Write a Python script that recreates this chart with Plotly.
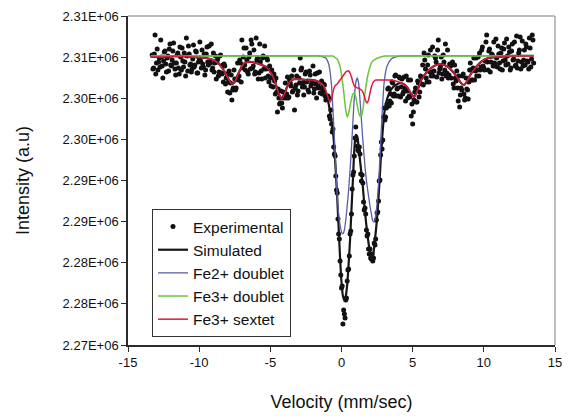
import numpy as np
import plotly.graph_objects as go

# ---------------- data ----------------
# Experimental Moessbauer spectrum, two interleaved channel sets (velocity in mm/s)
V_START_A = -13.3
V_START_B = -13.25
V_STEP = 0.1
INT_EXP_A = [
    2305260, 2303680, 2307690, 2304290, 2303430, 2304890, 2307080, 2303920, 2304530, 2305740,
    2303190, 2305140, 2305990, 2304040, 2304650, 2306720, 2303560, 2304290, 2305500, 2302950,
    2305020, 2306110, 2303800, 2304410, 2307330, 2303310, 2305380, 2304160, 2303560, 2306470,
    2304040, 2305620, 2303070, 2304890, 2304530, 2305870, 2303800, 2302830, 2305380, 2304410,
    2306350, 2304290, 2303430, 2305500, 2304290, 2302340, 2304770, 2303190, 2305260, 2302950,
    2301980, 2303920, 2302460, 2300760, 2303310, 2301850, 2299790, 2301250, 2302340, 2301250,
    2304290, 2302700, 2304290, 2307080, 2305020, 2304040, 2306110, 2303190, 2305020, 2303560,
    2306600, 2303920, 2302950, 2307330, 2304890, 2303070, 2304410, 2302340, 2305140, 2306350,
    2303560, 2304650, 2301980, 2302460, 2303430, 2301370, 2302100, 2302460, 2298330, 2300030,
    2299420, 2299420, 2300760, 2300150, 2300030, 2302580, 2300150, 2301850, 2302700, 2300880,
    2298570, 2301610, 2300400, 2302460, 2304890, 2303680, 2301850, 2301370, 2303190, 2302100,
    2300760, 2302830, 2301730, 2303920, 2301120, 2301730, 2303070, 2301250, 2300640, 2302100,
    2300880, 2301610, 2299790, 2299910, 2300030, 2297480, 2296870, 2296260, 2293220, 2290550,
    2288480, 2283500, 2280210, 2276930, 2272550, 2273770, 2275470, 2277780, 2279240, 2283500,
    2285930, 2290670, 2292980, 2296500, 2294190, 2293590, 2293220, 2289940, 2289700, 2286410,
    2285930, 2283250, 2281670, 2281670, 2280460, 2280210, 2282400, 2282890, 2286050, 2287510,
    2290060, 2294680, 2294920, 2298810, 2297720, 2299300, 2301250, 2299670, 2299420, 2301850,
    2300520, 2302830, 2301120, 2300270, 2302460, 2301370, 2300520, 2302580, 2299670, 2300880,
    2302220, 2300150, 2297840, 2296870, 2299790, 2301250, 2299540, 2301850, 2300760, 2302580,
    2304040, 2305500, 2303560, 2301980, 2305260, 2303190, 2302700, 2306230, 2303310, 2304890,
    2302580, 2307080, 2303560, 2305020, 2302950, 2304410, 2306600, 2303070, 2302460, 2304160,
    2302460, 2304410, 2301250, 2302460, 2303310, 2299670, 2298940, 2301250, 2302700, 2300520,
    2300030, 2301120, 2299910, 2303430, 2303430, 2302220, 2304890, 2303310, 2302700, 2305020,
    2305500, 2303800, 2306230, 2303680, 2304530, 2307690, 2303430, 2305990, 2304410, 2305260,
    2306840, 2303920, 2304890, 2306350, 2304290, 2305500, 2303430, 2305990, 2304650, 2307200,
    2304160, 2305620, 2303680, 2306600, 2304770, 2303920, 2307570, 2304530, 2305870, 2303560,
    2306960, 2304650, 2304040, 2306230, 2304410, 2307330, 2303800, 2307690, 2304290,
]
INT_EXP_B = [
    2303560, 2305380, 2302950, 2305990, 2304410, 2303800, 2305020, 2302460, 2305620, 2304160,
    2304890, 2303310, 2306600, 2303920, 2305740, 2304290, 2302830, 2305260, 2303680, 2306230,
    2303430, 2304530, 2305500, 2302700, 2305140, 2306350, 2304040, 2303190, 2304770, 2303800,
    2305740, 2303070, 2304410, 2306840, 2303680, 2304160, 2305380, 2303430, 2306230, 2304040,
    2304410, 2306600, 2303680, 2303190, 2305140, 2304410, 2302700, 2305140, 2303070, 2304040,
    2304160, 2301730, 2302950, 2301980, 2300640, 2302830, 2301000, 2303430, 2301000, 2302340,
    2302220, 2304650, 2301980, 2303680, 2306110, 2303430, 2304650, 2302950, 2305500, 2307080,
    2303680, 2305870, 2303190, 2304650, 2302340, 2306600, 2303310, 2304890, 2303560, 2302460,
    2304890, 2302700, 2303920, 2301490, 2302460, 2302950, 2300520, 2300760, 2301120, 2299300,
    2300880, 2298810, 2300030, 2301850, 2300520, 2300030, 2302220, 2301490, 2300760, 2303430,
    2301250, 2302700, 2300880, 2301850, 2303430, 2301370, 2300400, 2302950, 2301980, 2301000,
    2303310, 2301490, 2301980, 2300640, 2302950, 2300030, 2301490, 2303190, 2301250, 2300520,
    2301730, 2300270, 2300030, 2300270, 2297840, 2298570, 2295900, 2294070, 2292980, 2288850,
    2285320, 2282890, 2278510, 2277170, 2274260, 2273280, 2275710, 2279120, 2280820, 2283860,
    2288970, 2291030, 2295170, 2294920, 2293710, 2294070, 2290790, 2290670, 2287390, 2286660,
    2283980, 2283500, 2281060, 2280580, 2281060, 2280580, 2282160, 2285200, 2286170, 2289940,
    2293100, 2293830, 2297720, 2297360, 2298810, 2301120, 2299060, 2300520, 2301980, 2300270,
    2302700, 2300270, 2301250, 2302580, 2300150, 2302340, 2300760, 2301250, 2302700, 2300030,
    2300270, 2302220, 2299300, 2298330, 2300760, 2299540, 2302100, 2300150, 2302700, 2301730,
    2301610, 2304650, 2302460, 2304040, 2301980, 2305870, 2303190, 2302700, 2305140, 2304410,
    2305870, 2303070, 2303800, 2302340, 2305260, 2303430, 2302700, 2305870, 2302830, 2303920,
    2304040, 2301730, 2304040, 2302100, 2301250, 2302700, 2300400, 2301000, 2302950, 2299790,
    2302460, 2301000, 2301980, 2304290, 2302220, 2303680, 2302220, 2304890, 2303430, 2302700,
    2303430, 2305870, 2303920, 2303430, 2306840, 2304410, 2305740, 2303190, 2305380, 2303920,
    2304290, 2307200, 2303800, 2305380, 2303560, 2306110, 2304530, 2306720, 2304040, 2305140,
    2306230, 2303430, 2305740, 2304650, 2306840, 2304040, 2303680, 2305500, 2307450, 2304410,
    2303920, 2305870, 2306600, 2304530, 2303560, 2306110, 2304770, 2307080,
]

# Fitted components (velocity in mm/s)
V_FIT = [-13.4, -12.5, -11.5, -10.5, -9.5, -9.0, -8.6, -8.2, -7.9, -7.7,
         -7.5, -7.2, -6.8, -6.3, -5.8, -5.3, -4.9, -4.6, -4.4, -4.2,
         -4.0, -3.8, -3.5, -3.0, -2.5, -2.0, -1.6, -1.3, -1.1, -0.9,
         -0.8, -0.7, -0.6, -0.5, -0.4, -0.3, -0.2, -0.1, 0.0, 0.1,
         0.2, 0.3, 0.4, 0.5, 0.6, 0.7, 0.8, 0.9, 1.0, 1.1,
         1.2, 1.3, 1.4, 1.5, 1.6, 1.7, 1.8, 1.9, 2.0, 2.1,
         2.2, 2.3, 2.4, 2.5, 2.6, 2.7, 2.8,
         3.0, 3.2, 3.5, 3.8, 4.2, 4.6, 4.9, 5.1, 5.3, 5.6,
         6.0, 6.5, 7.0, 7.5, 7.9, 8.2, 8.4, 8.6, 8.8, 9.0,
         9.4, 9.8, 10.3, 11.0, 12.0, 13.5]

SIMULATED = [2305020, 2305020, 2305140, 2305020, 2304890, 2304650, 2304160, 2303190, 2302220, 2301730,
             2301980, 2303190, 2304290, 2304410, 2304160, 2303800, 2302950, 2301610, 2300520, 2299910,
             2300520, 2301490, 2302220, 2302340, 2302220, 2302220, 2301980, 2301490, 2300760, 2299300,
             2298330, 2297230, 2295900, 2293950, 2291030, 2287870, 2284220, 2280580, 2277660, 2275960,
             2275470, 2275960, 2277300, 2279850, 2282770, 2286410, 2290060, 2293710, 2295530, 2295410,
             2294190, 2292490, 2290910, 2289210, 2287140, 2285320, 2283740, 2282400, 2281310, 2280700,
             2280820, 2281920, 2283620, 2285440, 2287870, 2290790, 2293710,
             2298090, 2299910, 2301120, 2301610, 2301850, 2301370, 2300520, 2300150, 2300760, 2302220,
             2303190, 2303920, 2304160, 2303800, 2303070, 2302340, 2301850, 2301610, 2301980, 2302700,
             2303680, 2304410, 2304890, 2305020, 2305140, 2305140]

FE2_DOUBLET = [2305140, 2305140, 2305140, 2305140, 2305140, 2305140, 2305140, 2305140, 2305140, 2305140,
               2305140, 2305140, 2305140, 2305140, 2305140, 2305140, 2305140, 2305140, 2305140, 2305140,
               2305140, 2305140, 2305140, 2305140, 2305140, 2305140, 2305140, 2305020, 2304890, 2304160,
               2303190, 2301490, 2298570, 2295170, 2291520, 2288120, 2285930, 2284590, 2283740, 2283500,
               2283980, 2285200, 2286900, 2288850, 2291280, 2293950, 2297110, 2300030, 2301850, 2302460,
               2301850, 2299790, 2297360, 2294920, 2292740, 2290790, 2289330, 2288120, 2286900, 2285930,
               2285080, 2284950, 2285680, 2287260, 2289570, 2292740, 2296380,
               2301980, 2303920, 2304770, 2305020, 2305140, 2305140, 2305140, 2305140, 2305140, 2305140,
               2305140, 2305140, 2305140, 2305140, 2305140, 2305140, 2305140, 2305140, 2305140, 2305140,
               2305140, 2305140, 2305140, 2305140, 2305140, 2305140]

FE3_DOUBLET = [2305140, 2305140, 2305140, 2305140, 2305140, 2305140, 2305140, 2305140, 2305140, 2305140,
               2305140, 2305140, 2305140, 2305140, 2305140, 2305140, 2305140, 2305140, 2305140, 2305140,
               2305140, 2305140, 2305140, 2305140, 2305140, 2305140, 2305140, 2305140, 2305140, 2305140,
               2305140, 2305140, 2305140, 2305020, 2304890, 2304770, 2304410, 2303800, 2302830, 2301610,
               2300030, 2298570, 2297720, 2298210, 2299060, 2299910, 2300520, 2300640, 2300150, 2299180,
               2298330, 2297840, 2297840, 2298570, 2300030, 2301250, 2302340, 2303190, 2303800, 2304290,
               2304530, 2304650, 2304770, 2304890, 2304890, 2305020, 2305020,
               2305140, 2305140, 2305140, 2305140, 2305140, 2305140, 2305140, 2305140, 2305140, 2305140,
               2305140, 2305140, 2305140, 2305140, 2305140, 2305140, 2305140, 2305140, 2305140, 2305140,
               2305140, 2305140, 2305140, 2305140, 2305140, 2305140]

FE3_SEXTET = [2305020, 2305020, 2305140, 2305020, 2304890, 2304650, 2304160, 2303190, 2302220, 2301730,
              2301980, 2303190, 2304290, 2304410, 2304160, 2303800, 2302950, 2301610, 2300520, 2299910,
              2300520, 2301490, 2302220, 2302340, 2302220, 2302220, 2301980, 2301610, 2300880, 2299910,
              2299540, 2299910, 2300760, 2301370, 2301610, 2301730, 2301980, 2302220, 2302460, 2302700,
              2302950, 2303190, 2303310, 2303310, 2303070, 2302580, 2301980, 2301490, 2301370, 2301250,
              2301250, 2301120, 2301000, 2300760, 2300270, 2299670, 2299420, 2299790, 2300640, 2301370,
              2301850, 2302100, 2302220, 2302220, 2302220, 2302220, 2302220,
              2302220, 2302220, 2302220, 2302100, 2301850, 2301370, 2300520, 2300150, 2300760, 2302220,
              2303190, 2303920, 2304160, 2303800, 2303070, 2302340, 2301850, 2301610, 2301980, 2302700,
              2303680, 2304410, 2304890, 2305020, 2305140, 2305140]

X_TICKS = [-15, -10, -5, 0, 5, 10, 15]
X_TICK_LABELS = ["-15", "-10", "-5", "0", "5", "10", "15"]
Y_TICKS = [2270000, 2275000, 2280000, 2285000, 2290000, 2295000, 2300000, 2305000, 2310000]
Y_TICK_LABELS = ["2.27E+06", "2.28E+06", "2.28E+06", "2.29E+06", "2.29E+06",
                 "2.30E+06", "2.30E+06", "2.31E+06", "2.31E+06"]

for name, arr in [("sim", SIMULATED), ("fe2", FE2_DOUBLET), ("fe3d", FE3_DOUBLET), ("fe3s", FE3_SEXTET)]:
    if len(arr) != len(V_FIT):
        print("length mismatch", name, len(arr), len(V_FIT))

vel_a = np.round(V_START_A + V_STEP * np.arange(len(INT_EXP_A)), 2)
vel_b = np.round(V_START_B + V_STEP * np.arange(len(INT_EXP_B)), 2)
velocity_exp = np.concatenate([vel_a, vel_b])
intensity_exp = INT_EXP_A + INT_EXP_B

FONT = 'Arial, "Liberation Sans", sans-serif'
AXIS_COLOR = '#2b2b2b'
SPL = 0.6

fig = go.Figure()
fig.add_trace(go.Scatter(x=velocity_exp, y=intensity_exp, mode='markers', name='Experimental',
                         marker=dict(color='#111111', size=5)))
fig.add_trace(go.Scatter(x=V_FIT, y=SIMULATED, mode='lines', name='Simulated',
                         line=dict(color='#151515', width=2.2, shape='spline', smoothing=SPL)))
fig.add_trace(go.Scatter(x=V_FIT, y=FE2_DOUBLET, mode='lines', name='Fe2+ doublet',
                         line=dict(color='#5b5ea8', width=1.3, shape='spline', smoothing=SPL)))
fig.add_trace(go.Scatter(x=V_FIT, y=FE3_DOUBLET, mode='lines', name='Fe3+ doublet',
                         line=dict(color='#6cc43c', width=1.5, shape='spline', smoothing=SPL)))
fig.add_trace(go.Scatter(x=V_FIT, y=FE3_SEXTET, mode='lines', name='Fe3+ sextet',
                         line=dict(color='#e0193c', width=1.5, shape='spline', smoothing=SPL)))

fig.update_layout(
    width=571, height=416,
    margin=dict(l=128, r=16, t=16, b=71, autoexpand=False),
    paper_bgcolor='white', plot_bgcolor='white',
    font=dict(family=FONT, color='#111111'),
    legend=dict(x=0.0562, y=0.4134, xanchor='left', yanchor='top',
                bgcolor='white', bordercolor='#333333', borderwidth=1,
                font=dict(size=15.5, family=FONT, color='#111111')),
    shapes=[
        dict(type='line', xref='paper', yref='paper', x0=0, x1=1, y0=1, y1=1,
             line=dict(color='#a8a8a8', width=1.5)),
        dict(type='line', xref='paper', yref='paper', x0=1, x1=1, y0=0, y1=1,
             line=dict(color='#a8a8a8', width=1.5)),
    ],
)
fig.update_xaxes(range=[-15, 15], tickvals=X_TICKS, ticktext=X_TICK_LABELS,
                 ticks='outside', ticklen=5, tickcolor=AXIS_COLOR, tickwidth=1.2,
                 showline=True, linecolor=AXIS_COLOR, linewidth=1.5,
                 showgrid=False, zeroline=False, automargin=False,
                 tickfont=dict(size=13, family=FONT, color='#111111'),
                 title=dict(text='Velocity (mm/sec)', font=dict(size=18, family=FONT, color='#111111'),
                            standoff=26))
fig.update_yaxes(range=[2270000, 2310000], tickvals=Y_TICKS, ticktext=Y_TICK_LABELS,
                 ticks='outside', ticklen=5, tickcolor=AXIS_COLOR, tickwidth=1.2,
                 showline=True, linecolor=AXIS_COLOR, linewidth=1.5,
                 showgrid=False, zeroline=False, automargin=False,
                 tickfont=dict(size=13, family=FONT, color='#111111'),
                 title=dict(text='Intensity (a.u)', font=dict(size=18, family=FONT, color='#111111'),
                            standoff=28))

fig.write_html("out.html")
